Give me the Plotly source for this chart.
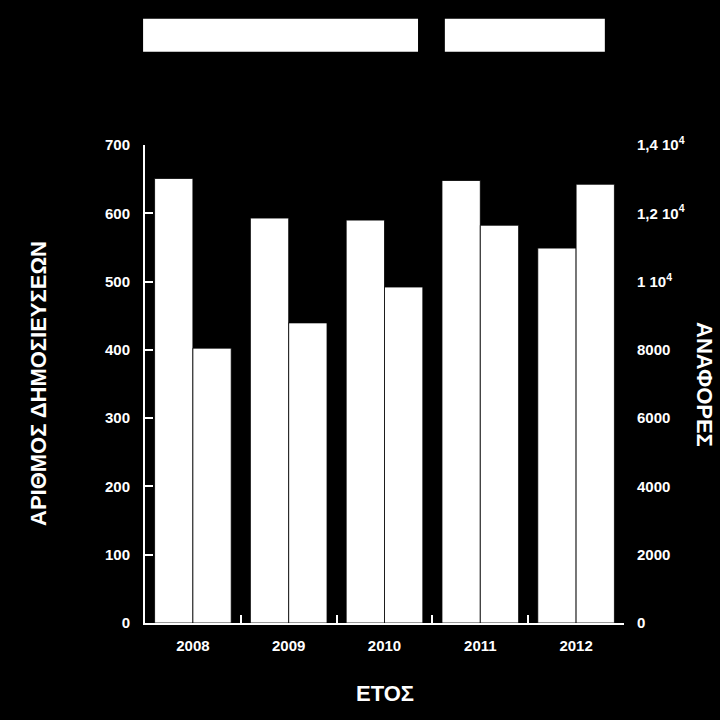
import plotly.graph_objects as go

# dados
anos = ['2008', '2009', '2010', '2011', '2012']
dimosieuseis = [651, 593, 590, 648, 549]          # eixo esquerdo
anafores = [8050, 8790, 9840, 11650, 12850]       # eixo direito

ticks_dir = [0, 2000, 4000, 6000, 8000, 10000, 12000, 14000]
ticks_dir_txt = ['0', '2000', '4000', '6000', '8000',
                 '1 10<sup>4</sup>', '1,2 10<sup>4</sup>', '1,4 10<sup>4</sup>']

fonte = dict(family='Liberation Sans', color='white', size=15, weight='bold')

fig = go.Figure()
fig.add_trace(go.Bar(x=anos, y=dimosieuseis, name='ΔΗΜΟΣΙΕΥΣΕΙΣ', offsetgroup='1',
                     marker=dict(color='white', line=dict(color='black', width=0.8))))
fig.add_trace(go.Bar(x=anos, y=anafores, name='ΑΝΑΦΟΡΕΣ', offsetgroup='2', yaxis='y2',
                     marker=dict(color='white', line=dict(color='black', width=0.8))))

fig.update_layout(
    width=720, height=720,
    margin=dict(l=145, r=96, t=145, b=97),
    paper_bgcolor='black', plot_bgcolor='black',
    font=fonte,
    barmode='group', bargap=0.2, bargroupgap=0,
    showlegend=False,
    xaxis=dict(type='category', showline=True, linecolor='white', linewidth=2,
               ticks='inside', tickson='boundaries', ticklen=8, tickwidth=2,
               tickcolor='white', showgrid=False, ticklabelstandoff=8),
    yaxis=dict(range=[0, 700], dtick=100, showline=True, linecolor='white', linewidth=2,
               ticks='inside', ticklen=8, tickwidth=2, tickcolor='white',
               showgrid=False, zeroline=False, ticklabelstandoff=10),
    yaxis2=dict(range=[0, 14000], overlaying='y', side='right', tickvals=ticks_dir,
                ticktext=ticks_dir_txt, showline=False, ticks='', showgrid=False,
                zeroline=False, ticklabelstandoff=12),
)

# τα λευκά πλαίσια του υπομνήματος
for x0, x1 in [(-0.004, 0.570), (0.626, 0.960)]:
    fig.add_shape(type='rect', xref='paper', yref='paper', x0=x0, x1=x1,
                  y0=1.195, y1=1.264, fillcolor='white', line=dict(width=0))

titlos = dict(family='Liberation Sans', color='white', size=22, weight='bold')
fig.add_annotation(text='ΑΡΙΘΜΟΣ ΔΗΜΟΣΙΕΥΣΕΩΝ', xref='paper', yref='paper', x=0, y=0.5,
                   xanchor='center', yanchor='middle', xshift=-107, textangle=-90,
                   showarrow=False, font=titlos)
fig.add_annotation(text='ΑΝΑΦΟΡΕΣ', xref='paper', yref='paper', x=1, y=0.5,
                   xanchor='center', yanchor='middle', xshift=81, textangle=90,
                   showarrow=False, font=titlos)
fig.add_annotation(text='ΕΤΟΣ', xref='paper', yref='paper', x=0.5, y=0,
                   xanchor='center', yanchor='middle', yshift=-70,
                   showarrow=False, font=titlos)

# sem margem da página, para a figura ocupar a janela toda
fig.write_html('out.html', config={'displayModeBar': False},
               post_script="document.body.style.margin='0';")
